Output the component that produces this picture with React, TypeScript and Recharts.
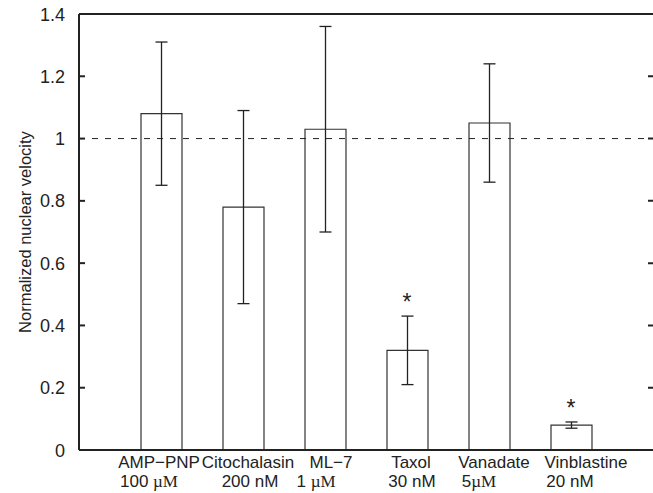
import {
  ComposedChart,
  Bar,
  Line,
  XAxis,
  YAxis,
  ErrorBar,
  ReferenceLine,
  CartesianGrid,
} from "recharts";

const treatments = ["AMP\u2212PNP", "Citochalasin", "ML\u22127", "Taxol", "Vanadate", "Vinblastine"];
const doseValues = ["100 ", "200 ", "1 ", "30 ", "5", "20 "];
const doseUnits = ["\u00b5M", "nM", "\u00b5M", "nM", "\u00b5M", "nM"];
const velocity = [1.08, 0.78, 1.03, 0.32, 1.05, 0.08];
const lowerBound = [0.85, 0.47, 0.7, 0.21, 0.86, 0.07];
const upperBound = [1.31, 1.09, 1.36, 0.43, 1.24, 0.09];
const significant = [false, false, false, true, false, true];
const yTicks = [0, 0.2, 0.4, 0.6, 0.8, 1, 1.2, 1.4];

const data = treatments.map((name, i) => ({
  name,
  velocity: velocity[i],
  err: [velocity[i] - lowerBound[i], upperBound[i] - velocity[i]],
  star: significant[i] ? upperBound[i] : null,
}));

const ink = "#222";
const font = "'Liberation Sans', Arial, sans-serif";
const serif = "'Liberation Serif', serif";

// the labels in the original sit a little off their bars
const nameNudge = [-2, 5, 6, 4, 5, 15];
const doseNudge = [-12, 7, -9, 5, -10, -1];

const fmt = (v: number) => String(Number(v.toFixed(1)));

const LeftTick = ({ x, y, payload }: any) => (
  <g>
    <line x1={x} x2={x + 6} y1={y} y2={y} stroke={ink} strokeWidth={2} />
    <text x={x - 14} y={y} dy={6.5} textAnchor="end" fontSize={18} fill={ink} fontFamily={font}>
      {fmt(payload.value)}
    </text>
  </g>
);

const CategoryTick = ({ x, y, payload, index }: any) => {
  const unit = doseUnits[index];
  return (
    <text x={x} y={y} textAnchor="middle" fontSize={17} fill={ink} fontFamily={font}>
      <tspan x={x + nameNudge[index]} dy={18}>{payload.value}</tspan>
      <tspan x={x + doseNudge[index]} dy={19}>
        {doseValues[index]}
        <tspan fontFamily={unit === "\u00b5M" ? serif : font}>{unit}</tspan>
      </tspan>
    </text>
  );
};

const Star = ({ cx, cy, index }: any) => {
  if (cx == null || cy == null || !significant[index]) return <g key={`s-${index}`} />;
  return (
    <text key={`s-${index}`} x={cx} y={cy - 6} textAnchor="middle" fontSize={23} fill={ink} fontFamily={font}>
      *
    </text>
  );
};

export default function App() {
  return (
    <div style={{ position: "absolute", left: 0, top: 0, background: "#fff" }}>
      <ComposedChart
        width={653}
        height={493}
        data={data}
        margin={{ top: 14, right: 0, bottom: 0, left: 0 }}
        style={{ fontFamily: font }}
      >
        {/* only the last few pixels of each grid line show: the inward ticks on the right edge */}
        <CartesianGrid vertical={false} stroke={ink} strokeWidth={2} strokeDasharray="0 569 5" />
        <XAxis
          dataKey="name"
          height={43}
          padding={{ left: 41, right: 41 }}
          tickLine={false}
          tickSize={0}
          tickMargin={0}
          axisLine={{ stroke: ink, strokeWidth: 2 }}
          tick={<CategoryTick />}
          interval={0}
        />
        <YAxis
          width={79}
          domain={[0, 1.4]}
          ticks={yTicks}
          tickLine={false}
          tickSize={0}
          tickMargin={0}
          axisLine={{ stroke: ink, strokeWidth: 2 }}
          tick={<LeftTick />}
          label={{
            value: "Normalized nuclear velocity",
            angle: -90,
            position: "insideLeft",
            offset: 25,
            style: { textAnchor: "middle", fontSize: 16.5, fill: ink, fontFamily: font },
          }}
        />
        <ReferenceLine y={1} stroke={ink} strokeWidth={1} strokeDasharray="6 7" />
        <ReferenceLine y={1.4} stroke={ink} strokeWidth={2} />
        <Bar dataKey="velocity" barSize={41} fill="#fff" stroke="#333" strokeWidth={1.2} isAnimationActive={false}>
          <ErrorBar dataKey="err" width={6} stroke={ink} strokeWidth={1.3} direction="y" />
        </Bar>
        <Line
          dataKey="star"
          stroke="none"
          dot={Star}
          activeDot={false}
          legendType="none"
          isAnimationActive={false}
        />
      </ComposedChart>
    </div>
  );
}
